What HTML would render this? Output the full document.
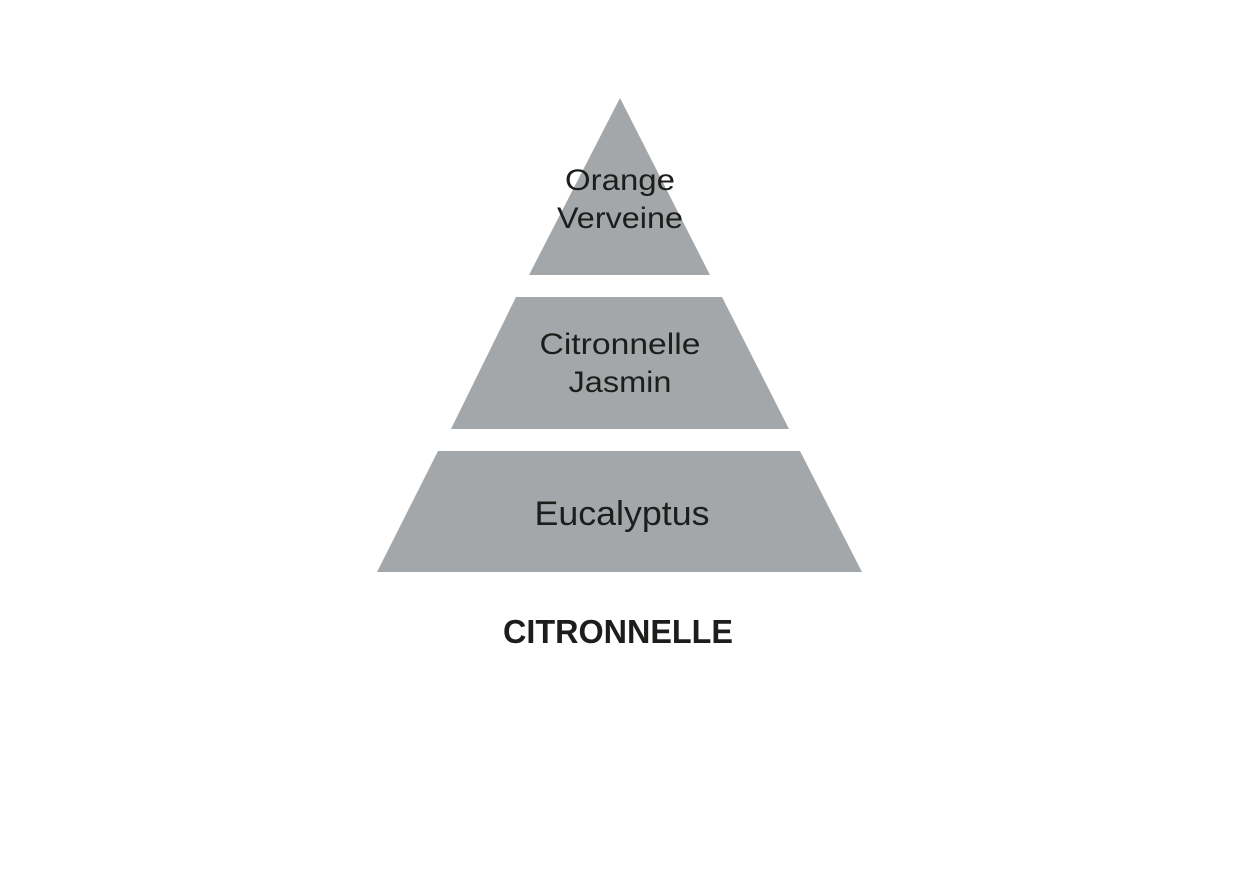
<!DOCTYPE html>
<html><head><meta charset="utf-8"><style>
html,body{margin:0;padding:0;background:#fff;}
svg{display:block;}
text{font-family:"Liberation Sans",sans-serif;fill:#1d1d1b;text-anchor:middle;}
</style></head><body>
<svg width="1240" height="874" viewBox="0 0 1240 874" xmlns="http://www.w3.org/2000/svg">
<rect width="1240" height="874" fill="#fff"/>
<polygon points="620,98 710,275 529,275" fill="#a4a7a9"/>
<polygon points="516,297 722,297 789,429 451,429" fill="#a4a7a9"/>
<polygon points="438,451 800,451 862,572 377,572" fill="#a4a7a9"/>
<text x="620" y="190" font-size="30" textLength="110" lengthAdjust="spacingAndGlyphs">Orange</text>
<text x="620" y="228" font-size="30" textLength="126" lengthAdjust="spacingAndGlyphs">Verveine</text>
<text x="620" y="354" font-size="30" textLength="161" lengthAdjust="spacingAndGlyphs">Citronnelle</text>
<text x="620" y="392" font-size="30" textLength="103" lengthAdjust="spacingAndGlyphs">Jasmin</text>
<text x="622" y="525" font-size="34" textLength="175" lengthAdjust="spacingAndGlyphs">Eucalyptus</text>
<text x="618" y="643" font-size="33" font-weight="bold" textLength="230" lengthAdjust="spacingAndGlyphs">CITRONNELLE</text>
</svg>
</body></html>
